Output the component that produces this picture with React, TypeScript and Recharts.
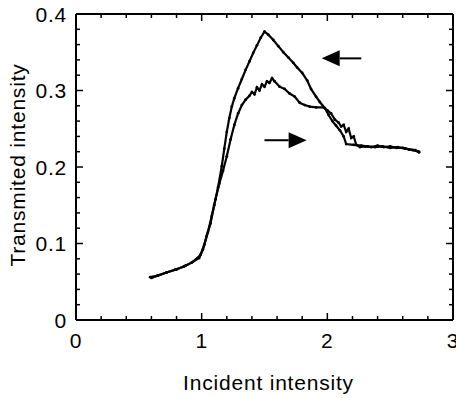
import React from "react";
import { LineChart, Line, XAxis, YAxis, ReferenceLine } from "recharts";

// sweep with increasing incident intensity (lower hump)
const upX = [0.59, 0.65, 0.72, 0.8, 0.87, 0.93, 0.99, 1.02, 1.05, 1.08, 1.11, 1.14, 1.17, 1.2, 1.23, 1.26, 1.29, 1.32, 1.35, 1.38, 1.4, 1.42, 1.44, 1.46, 1.48, 1.5, 1.52, 1.54, 1.56, 1.58, 1.62, 1.66, 1.7, 1.74, 1.78, 1.82, 1.86, 1.91, 1.97, 2.0, 2.03, 2.06, 2.09, 2.11, 2.13, 2.15, 2.17, 2.19, 2.21, 2.23, 2.26, 2.3, 2.35, 2.4, 2.45, 2.5, 2.55, 2.6, 2.65, 2.7, 2.73];
const upY = [0.056, 0.058, 0.062, 0.066, 0.071, 0.076, 0.085, 0.098, 0.115, 0.136, 0.158, 0.178, 0.195, 0.214, 0.236, 0.255, 0.27, 0.281, 0.288, 0.293, 0.298, 0.295, 0.304, 0.3, 0.308, 0.305, 0.312, 0.31, 0.316, 0.312, 0.305, 0.302, 0.296, 0.292, 0.284, 0.281, 0.279, 0.278, 0.278, 0.274, 0.27, 0.262, 0.258, 0.253, 0.255, 0.246, 0.25, 0.238, 0.24, 0.229, 0.226, 0.227, 0.226, 0.228, 0.226, 0.227, 0.225, 0.225, 0.223, 0.222, 0.219];

// sweep back down (upper hump), listed in sweep order
const downX = [2.73, 2.68, 2.62, 2.56, 2.5, 2.44, 2.38, 2.32, 2.27, 2.21, 2.15, 2.13, 2.1, 2.07, 2.04, 2.01, 1.98, 1.94, 1.91, 1.87, 1.84, 1.8, 1.76, 1.73, 1.69, 1.65, 1.61, 1.57, 1.53, 1.5, 1.47, 1.44, 1.41, 1.38, 1.35, 1.32, 1.29, 1.26, 1.24, 1.22, 1.2, 1.18, 1.16, 1.13, 1.1, 1.07, 1.04, 1.01, 0.98, 0.92, 0.86, 0.79, 0.72, 0.65, 0.6];
const downY = [0.22, 0.222, 0.224, 0.226, 0.225, 0.227, 0.226, 0.227, 0.228, 0.229, 0.23, 0.24, 0.248, 0.254, 0.26, 0.268, 0.277, 0.285, 0.292, 0.302, 0.313, 0.323, 0.33, 0.336, 0.343, 0.35, 0.358, 0.366, 0.373, 0.377, 0.369, 0.359, 0.349, 0.338, 0.327, 0.315, 0.303, 0.29, 0.279, 0.264, 0.246, 0.224, 0.201, 0.173, 0.15, 0.126, 0.11, 0.092, 0.081, 0.075, 0.07, 0.066, 0.062, 0.058, 0.055];

const xTicks = [0, 0.2, 0.4, 0.6, 0.8, 1, 1.2, 1.4, 1.6, 1.8, 2, 2.2, 2.4, 2.6, 2.8, 3];
const yTicks = [0, 0.02, 0.04, 0.06, 0.08, 0.1, 0.12, 0.14, 0.16, 0.18, 0.2, 0.22, 0.24, 0.26, 0.28, 0.3, 0.32, 0.34, 0.36, 0.38, 0.4];

// arrows: [tail x, tip x, y]
const arrows = [
  [2.27, 1.955, 0.342],
  [1.5, 1.835, 0.235],
];

const upData = upX.map((x, i) => ({ x, y: upY[i] }));
const downData = downX.map((x, i) => ({ x, y: downY[i] }));

const font = { fontFamily: "'Liberation Sans', Arial, sans-serif", fontSize: 21, letterSpacing: 0.8 };

const isMajorX = (v: number) => Math.abs(v - Math.round(v)) < 1e-6;
const isMajorY = (v: number) => Math.abs(v * 10 - Math.round(v * 10)) < 1e-6;

const BottomTick = ({ x, y, payload }: any) => {
  const major = isMajorX(payload.value);
  return (
    <g>
      <line x1={x} y1={y} x2={x} y2={y - (major ? 7 : 4)} stroke="#000" strokeWidth={1.5} />
      {major && (
        <text x={x} y={y + 28} textAnchor="middle" fill="#000" style={font}>
          {payload.value}
        </text>
      )}
    </g>
  );
};

const TopTick = ({ x, y, payload }: any) => {
  const major = isMajorX(payload.value);
  return <line x1={x} y1={y} x2={x} y2={y + (major ? 7 : 4)} stroke="#000" strokeWidth={1.5} />;
};

const LeftTick = ({ x, y, payload }: any) => {
  const v = payload.value;
  const major = isMajorY(v);
  return (
    <g>
      <line x1={x} y1={y} x2={x + (major ? 7 : 4)} y2={y} stroke="#000" strokeWidth={1.5} />
      {major && (
        <text x={x - 9} y={y + 7.5} textAnchor="end" fill="#000" style={font}>
          {v === 0 ? "0" : v.toFixed(1)}
        </text>
      )}
    </g>
  );
};

const RightTick = ({ x, y, payload }: any) => {
  const major = isMajorY(payload.value);
  return <line x1={x} y1={y} x2={x - (major ? 7 : 4)} y2={y} stroke="#000" strokeWidth={1.5} />;
};

const YLabel = ({ viewBox }: any) => {
  const cy = viewBox.y + viewBox.height / 2 - 2;
  return (
    <text x={25} y={cy} transform={`rotate(-90, 25, ${cy})`} textAnchor="middle" fill="#000" style={font}>
      Transmited intensity
    </text>
  );
};

const ArrowShape = (p: any) => {
  const { x1, y1, x2, y2 } = p;
  const dir = Math.sign(x2 - x1);
  const hl = 18;
  const hw = 8;
  return (
    <g>
      <line x1={x1} y1={y1} x2={x2 - dir * hl} y2={y2} stroke="#000" strokeWidth={2} />
      <polygon points={`${x2},${y2} ${x2 - dir * hl},${y2 - hw} ${x2 - dir * hl},${y2 + hw}`} fill="#000" />
    </g>
  );
};

export default function App() {
  return (
    <div style={{ position: "absolute", left: 0, top: 0, background: "#fff" }}>
      <LineChart width={456} height={398} margin={{ top: 13, right: 2, left: 0, bottom: 0 }}>
        <XAxis
          xAxisId="b"
          type="number"
          dataKey="x"
          domain={[0, 3]}
          ticks={xTicks}
          interval={0}
          tickSize={0}
          tickMargin={0}
          tick={<BottomTick />}
          axisLine={{ stroke: "#000", strokeWidth: 2 }}
          height={78}
          allowDataOverflow
          label={{ value: "Incident intensity", position: "insideBottom", offset: 8, dx: 4, fill: "#000", style: font }}
        />
        <XAxis
          xAxisId="t"
          orientation="top"
          type="number"
          dataKey="x"
          domain={[0, 3]}
          ticks={xTicks}
          interval={0}
          tickSize={0}
          tickMargin={0}
          tick={<TopTick />}
          axisLine={{ stroke: "#000", strokeWidth: 2 }}
          height={1}
          allowDataOverflow
        />
        <YAxis
          yAxisId="l"
          type="number"
          domain={[0, 0.4]}
          ticks={yTicks}
          interval={0}
          tickSize={0}
          tickMargin={0}
          tick={<LeftTick />}
          axisLine={{ stroke: "#000", strokeWidth: 2 }}
          width={76}
          allowDataOverflow
          label={{ content: <YLabel /> }}
        />
        <YAxis
          yAxisId="r"
          orientation="right"
          type="number"
          domain={[0, 0.4]}
          ticks={yTicks}
          interval={0}
          tickSize={0}
          tickMargin={0}
          tick={<RightTick />}
          axisLine={{ stroke: "#000", strokeWidth: 2 }}
          width={1}
          allowDataOverflow
        />
        <Line
          xAxisId="b"
          yAxisId="l"
          data={upData}
          dataKey="y"
          type="linear"
          stroke="#000"
          strokeWidth={2.2}
          dot={{ r: 1.4, fill: "#000", stroke: "none" }}
          isAnimationActive={false}
        />
        <Line
          xAxisId="b"
          yAxisId="l"
          data={downData}
          dataKey="y"
          type="linear"
          stroke="#000"
          strokeWidth={2.2}
          dot={{ r: 1.4, fill: "#000", stroke: "none" }}
          isAnimationActive={false}
        />
        {arrows.map(([from, to, y], i) => (
          <ReferenceLine
            key={i}
            xAxisId="b"
            yAxisId="l"
            segment={[{ x: from, y }, { x: to, y }]}
            shape={<ArrowShape />}
          />
        ))}
      </LineChart>
    </div>
  );
}
